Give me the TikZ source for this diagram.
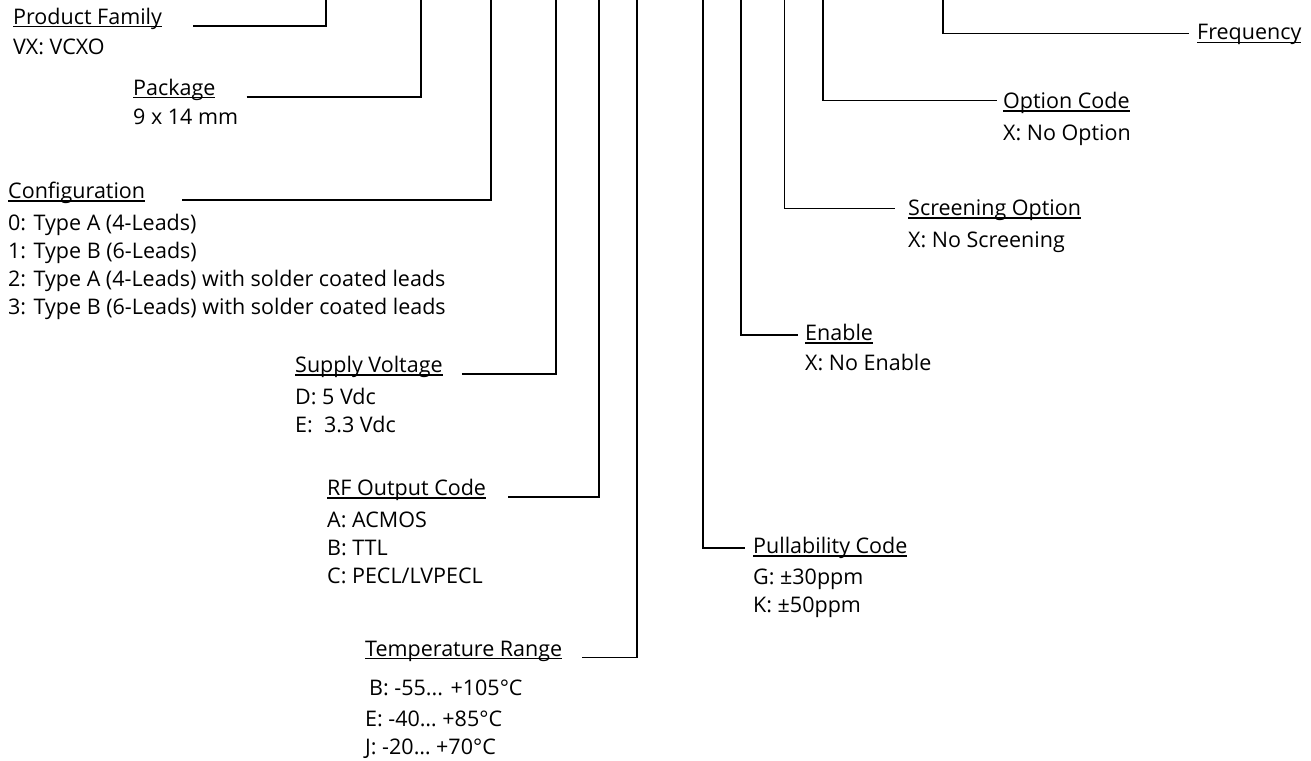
\documentclass[tikz,border=0pt]{standalone}
\usepackage{fontspec}
\setmainfont{Open Sans}
\usetikzlibrary{positioning}
\newcommand{\ulbl}[1]{\setbox0\hbox{#1}\rlap{\rule[-3pt]{\wd0}{1.2pt}}\box0}

\begin{document}
\begin{tikzpicture}[x=1pt,y=-1pt,
    font=\fontsize{21.5}{28}\selectfont,
    ttl/.style={anchor=base west,inner sep=0pt},
    itm/.style={anchor=base west,inner sep=0pt,align=left},
    lead/.style={line width=1.8pt}
  ]
  \useasboundingbox (0,0) rectangle (1311,760);

  % upper ends of the leads
  \coordinate (pf-top)  at (325.6,0);
  \coordinate (pkg-top) at (421,0);
  \coordinate (cfg-top) at (490.7,0);
  \coordinate (sup-top) at (555.7,0);
  \coordinate (rf-top)  at (599,0);
  \coordinate (tmp-top) at (637,0);
  \coordinate (pul-top) at (703,0);
  \coordinate (en-top)  at (741,0);
  \coordinate (scr-top) at (784.5,0);
  \coordinate (opt-top) at (823,0);
  \coordinate (fq-top)  at (943,0);

  % left hand fields (a list node sits on the base of its last line)
  \node[ttl] (pf) at (13,24.5) {\ulbl{Product Family}};
  \node[below=30pt of pf.base west,itm] (pf-v) {VX: VCXO};

  \node[ttl] (pkg) at (133,95.5) {\ulbl{Package}};
  \node[below=28.5pt of pkg.base west,itm] (pkg-v) {9 x 14 mm};

  \node[ttl] (cfg) at (8,198.5) {\ulbl{Configuration}};
  \node[below=115.5pt of cfg.base west,itm] (cfg-v) {0: Type A (4-Leads)\\
    1: Type B (6-Leads)\\
    2: Type A (4-Leads) with solder coated leads\\
    3: Type B (6-Leads) with solder coated leads};

  \node[ttl] (sup) at (295,372.5) {\ulbl{Supply Voltage}};
  \node[below=60pt of sup.base west,itm] (sup-v) {D: 5 Vdc\\E: \ 3.3 Vdc};

  \node[ttl] (rf) at (327,495.5) {\ulbl{RF Output Code}};
  \node[below=88pt of rf.base west,itm] (rf-v) {A: ACMOS\\B: TTL\\C: PECL/LVPECL};

  \node[ttl] (tmp) at (365,656) {\ulbl{Temperature Range}};
  \node[below=98.5pt of tmp.base west,itm] (tmp-v) {\hspace{4pt}B: -55... +105°C\\[3pt]
    E: -40… +85°C\\J: -20… +70°C};

  % right hand fields
  \node[ttl] (pul) at (753,553.5) {\ulbl{Pullability Code}};
  \node[below=59pt of pul.base west,itm] (pul-v) {G: ±30ppm\\K: ±50ppm};

  \node[ttl] (en) at (805,340.5) {\ulbl{Enable}};
  \node[below=30pt of en.base west,itm] (en-v) {X: No Enable};

  \node[ttl] (scr) at (908,215.5) {\ulbl{Screening Option}};
  \node[below=31.5pt of scr.base west,itm] (scr-v) {X: No Screening};

  \node[ttl] (opt) at (1003,108.5) {\ulbl{Option Code}};
  \node[below=31.5pt of opt.base west,itm] (opt-v) {X: No Option};

  \node[ttl] (fq) at (1197,40) {\ulbl{Frequency}};

  % leads
  \draw[lead] ([xshift=31pt,yshift=-1.5pt]pf.base east) -| (pf-top);
  \draw[lead] ([xshift=31pt,yshift=-1.5pt]pkg.base east) -| (pkg-top);
  \draw[lead] ([xshift=37pt,yshift=-1.5pt]cfg.base east) -| (cfg-top);
  \draw[lead] ([xshift=19pt,yshift=-1.5pt]sup.base east) -| (sup-top);
  \draw[lead] ([xshift=22pt,yshift=-1.5pt]rf.base east) -| (rf-top);
  \draw[lead] ([xshift=20pt,yshift=-1.5pt]tmp.base east) -| (tmp-top);
  \draw[lead] (pul-top) |- ([xshift=-8pt,yshift=5.5pt]pul.base west);
  \draw[lead] (en-top) |- ([xshift=-7pt,yshift=5.5pt]en.base west);
  \draw[lead] (scr-top) |- ([xshift=-13pt,yshift=7pt]scr.base west);
  \draw[lead] (opt-top) |- ([xshift=-6pt,yshift=8pt]opt.base west);
  \draw[lead] (fq-top) |- ([xshift=-8pt,yshift=6.5pt]fq.base west);
\end{tikzpicture}
\end{document}
